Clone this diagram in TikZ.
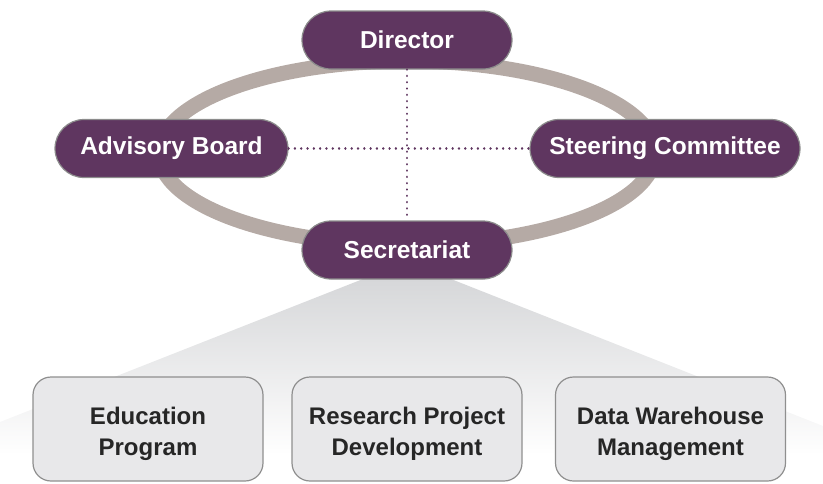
\documentclass[tikz,border=0pt]{standalone}
\usepackage{fontspec}
\setmainfont{Liberation Sans}
\usetikzlibrary{positioning}
\definecolor{purp}{HTML}{5F3660}
\definecolor{purpedge}{HTML}{8C8C8C}
\definecolor{dotc}{HTML}{5F3660}
\definecolor{ringc}{HTML}{B5AAA5}
\definecolor{fantop}{HTML}{D6D7D9}
\definecolor{boxfill}{HTML}{E8E8EA}
\definecolor{boxedge}{HTML}{8F8F8F}
\definecolor{boxtext}{HTML}{262626}
\tikzset{
  rolenode/.style={draw=purpedge, line width=1.2pt, fill=purp, text=white,
    rounded corners=29pt, minimum height=58pt, inner sep=0pt,
    font=\fontsize{24.5}{29}\selectfont\bfseries},
  unitbox/.style={draw=boxedge, line width=1.2pt, fill=boxfill,
    rounded corners=18pt, minimum width=230pt, minimum height=104pt, inner sep=0pt},
  unittext/.style={text=boxtext, align=center, inner sep=0pt,
    font=\fontsize{24}{31}\selectfont\bfseries},
  ring/.style={draw=ringc, line width=15pt},
  dotline/.style={draw=dotc, line width=2.5pt, line cap=round, dash pattern=on 0.01pt off 6.3pt}
}
\begin{document}
\begin{tikzpicture}[x=1pt,y=-1pt]
\useasboundingbox (0,0) rectangle (823,483);
% fan shading
\shade[top color=fantop, bottom color=white]
  (363,279) -- (451,279) -- (823,426) -- (823,455) -- (0,455) -- (0,422) -- cycle;
% ring
\draw[ring] (407,153) ellipse [x radius=248, y radius=92];
% nodes
\node[rolenode, minimum width=210pt] (dir) at (407,40) {Director};
\node[rolenode, minimum width=233pt] (adv) at (171.5,148.5) {Advisory Board};
\node[rolenode, minimum width=270pt] (steer) at (665,148.5) {Steering Committee};
\node[rolenode, minimum width=210pt] (sec) at (407,250) {Secretariat};
% dotted connectors
\draw[dotline] (dir) -- (sec);
\draw[dotline] (adv) -- (steer);
% bottom boxes
\node[unitbox] (edu) at (148,429) {};
\node[unitbox] (res) at (407,429) {};
\node[unitbox] (data) at (670.5,429) {};
\node[unittext] (edut) at ([yshift=-5pt]edu.center) {Education\\Program};
\node[unittext] (rest) at ([yshift=-5pt]res.center) {Research Project\\Development};
\node[unittext] (datat) at ([yshift=-5pt]data.center) {Data Warehouse\\Management};
\end{tikzpicture}
\end{document}
